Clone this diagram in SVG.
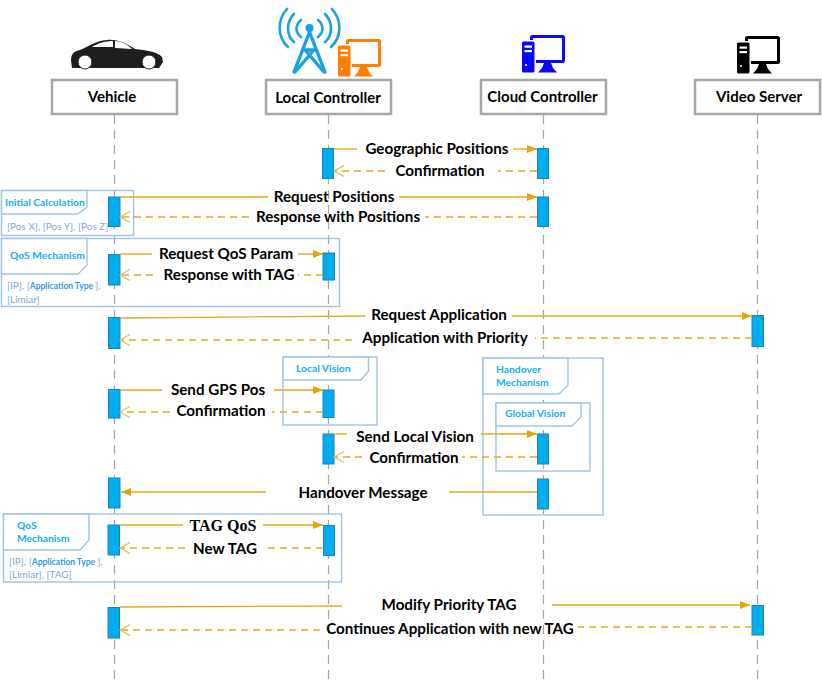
<svg xmlns="http://www.w3.org/2000/svg" width="822" height="686" viewBox="0 0 822 686">
<style>
text{font-family:"Lato","Carlito","Open Sans",sans-serif}
.lbl{font-size:15.2px;font-weight:700;fill:#000;text-anchor:middle}
.head{font-size:15px;font-weight:700;fill:#000;text-anchor:middle}
.box{fill:#fff;stroke:#a6a6a6;stroke-width:2.5}
.life{stroke:#a6a6a6;stroke-width:1.2;stroke-dasharray:9 6;fill:none}
.act{fill:#00aeef;stroke:#1f7fc0;stroke-width:1}
.frame{fill:none;stroke:#9dc3e6;stroke-width:1.4}
.tab{fill:#fff;stroke:#9dc3e6;stroke-width:1.4}
.ft{font-size:10.3px;font-weight:700;fill:#12b0f0}
.fb{font-size:10px;fill:#7fa8d8}
.fbs{font-size:8.5px;font-weight:700;fill:#2e9be0}
.m{stroke:#e3ab17;stroke-width:1.4;fill:none}
.r{stroke:#e3ab17;stroke-width:1.3;stroke-dasharray:7 5;fill:none}
</style>
<defs>
<marker id="solid" markerWidth="12" markerHeight="10" refX="10" refY="4" orient="auto" markerUnits="userSpaceOnUse"><path d="M0 0L10 4L0 8Z" fill="#e3a50f"/></marker>
<marker id="open" markerWidth="14" markerHeight="12" refX="11" refY="6" orient="auto" markerUnits="userSpaceOnUse"><path d="M1 0.5L11 6L1 11.5" fill="none" stroke="#e8bc50" stroke-width="1.2"/></marker>
<g id="pc">
<rect x="8" y="0" width="35" height="28" rx="2.500" fill="currentColor"/>
<rect x="11" y="3" width="29" height="22" fill="#fff"/>
<rect x="-1" y="5" width="15" height="33" rx="2" fill="#fff"/>
<rect x="0" y="6.500" width="12.500" height="31" rx="1.500" fill="currentColor"/>
<rect x="2.500" y="10.500" width="7.500" height="2.200" fill="#fff"/><rect x="2.500" y="15" width="7.500" height="2.200" fill="#fff"/>
<circle cx="4" cy="30" r="1.100" fill="#fff"/>
<path d="M22 28H29L31 33L35 37.500H16L20 33Z" fill="currentColor"/>
</g>
</defs>

<g id="lifelines" class="lifelines">
<line class="life" x1="114.500" y1="115" x2="114.500" y2="682"/>
<line class="life" x1="328.500" y1="115" x2="328.500" y2="682"/>
<line class="life" x1="543.500" y1="115" x2="543.500" y2="682"/>
<line class="life" x1="757.500" y1="115" x2="757.500" y2="682"/>
</g>

<g id="frame-initial"><rect class="frame" x="1.500" y="190.500" width="132" height="45"/><path class="tab" d="M1.500 190.500H87V207L78 214H1.500Z"/><text class="ft" x="5" y="206">Initial Calculation</text><text class="fb" x="7" y="230">[Pos X], [Pos Y], [Pos Z]</text></g>
<g id="frame-qos1"><rect class="frame" x="1.500" y="238.500" width="338" height="68"/><path class="tab" d="M1.500 238.500H87V265L78 274H1.500Z"/><text class="ft" x="10" y="259">QoS Mechanism</text><text x="7" y="289"><tspan class="fb">[IP], [</tspan><tspan class="fbs">Application Type </tspan><tspan class="fb">],</tspan></text><text class="fb" x="7" y="303">[Limiar]</text></g>
<g id="frame-local"><rect class="frame" x="283" y="357" width="94" height="68"/><path class="tab" d="M283 357H368.500V371L361 380H283Z"/><text class="ft" x="296" y="372">Local Vision</text></g>
<g id="frame-handover"><rect class="frame" x="483" y="358" width="120" height="157"/><path class="tab" d="M483 358H568V385L559 394H483Z"/><text class="ft" x="496" y="373">Handover</text><text class="ft" x="496" y="386">Mechanism</text></g>
<g id="frame-global"><rect class="frame" x="496" y="403" width="94" height="68"/><path class="tab" d="M496 403H581V417L572 426H496Z"/><text class="ft" x="505" y="417">Global Vision</text></g>
<g id="frame-qos2"><rect class="frame" x="3.500" y="514" width="338" height="68"/><path class="tab" d="M3.500 514H89V540L80 550H3.500Z"/><text class="ft" x="17" y="529">QoS</text><text class="ft" x="17" y="542">Mechanism</text><text x="9" y="565"><tspan class="fb">[IP], [</tspan><tspan class="fbs">Application Type </tspan><tspan class="fb">],</tspan></text><text class="fb" x="9" y="578">[Limiar], [TAG]</text></g>

<g id="node-vehicle">
<path d="M71 60C71 54 74 51 80 50C88 47 95 41 107 40C118 39 127 44 135 49C146 50 158 52 162 57L163 62L159 68H72Z" fill="#1e1e1e"/>
<path d="M92 47C98 43 106 41 113 41V47ZM115 41C122 41 128 45 132 49L115 48Z" fill="#fff"/>
<circle cx="85" cy="62" r="7" fill="#fff" stroke="#1e1e1e"/><circle cx="149" cy="62" r="7" fill="#fff" stroke="#1e1e1e"/>
<rect class="box" x="52" y="80" width="125" height="34"/><text class="head" x="112" y="102">Vehicle</text>
</g>
<g id="node-local">
<g fill="none" stroke="#16a3e0" stroke-width="2.600" stroke-linecap="round">
<path d="M301 20C295 25 295 32 301 37M294 14C286 22 286 35 294 42M287 9C277 20 277 37 288 47"/>
<path d="M318 20C324 25 324 32 318 37M325 14C333 22 333 35 325 42M332 9C342 20 342 37 331 47"/>
</g>
<circle cx="309.500" cy="28" r="4" fill="#16a3e0"/>
<path d="M309.500 32L294 72M309.500 32L325 72M305 50L324 72M314 50L295 72M305 50H314" fill="none" stroke="#16a3e0" stroke-width="3.400" stroke-linecap="round"/>
<use href="#pc" x="338" y="39" style="color:#ff8000"/>
<rect class="box" x="266" y="80" width="125" height="34"/><text class="head" x="328" y="103">Local Controller</text>
</g>
<g id="node-cloud">
<use href="#pc" x="522" y="35" style="color:#0808f8"/>
<rect class="box" x="481" y="80" width="125" height="34"/><text class="head" x="542.500" y="102">Cloud Controller</text>
</g>
<g id="node-video">
<use href="#pc" x="737" y="36" style="color:#000"/>
<rect class="box" x="695" y="80" width="125" height="34"/><text class="head" x="759" y="102">Video Server</text>
</g>

<g id="activations">
<rect class="act" x="322.500" y="148.500" width="11" height="30"/><rect class="act" x="537.500" y="148.500" width="11" height="30"/>
<rect class="act" x="108.500" y="197" width="11.500" height="29.500"/><rect class="act" x="537.500" y="197" width="11" height="29.500"/>
<rect class="act" x="108.500" y="254.500" width="11.500" height="30.500"/><rect class="act" x="323" y="253" width="11.500" height="27"/>
<rect class="act" x="108.500" y="317.500" width="11.500" height="31"/><rect class="act" x="752" y="315.500" width="11.500" height="31"/>
<rect class="act" x="108.500" y="389.500" width="11.500" height="28.500"/><rect class="act" x="323" y="390" width="11" height="27.500"/>
<rect class="act" x="323" y="434" width="11" height="30"/><rect class="act" x="537.500" y="434" width="11" height="30"/>
<rect class="act" x="108.500" y="478" width="11.500" height="30"/><rect class="act" x="537.500" y="479" width="11" height="30"/>
<rect class="act" x="108" y="525" width="11.500" height="30"/><rect class="act" x="323.500" y="525.500" width="11" height="30"/>
<rect class="act" x="108" y="607.500" width="11.500" height="30.500"/><rect class="act" x="752" y="605.500" width="11.500" height="29.500"/>
</g>

<g id="connectors">
<path class="m" d="M334 149H357"/><path class="m" d="M513 149H537" marker-end="url(#solid)"/>
<path class="r" d="M537 171H498"/><path class="r" d="M385 171H334" marker-end="url(#open)"/>
<path class="m" d="M120 197H268"/><path class="m" d="M399 197H537" marker-end="url(#solid)"/>
<path class="r" d="M537 217H425"/><path class="r" d="M249 217H120" marker-end="url(#open)"/>
<path class="m" d="M120 254H152"/><path class="m" d="M298 254H323" marker-end="url(#solid)"/>
<path class="r" d="M323 275H298"/><path class="r" d="M153 275H120" marker-end="url(#open)"/>
<path class="m" d="M120 318L365 316"/><path class="m" d="M512 316H752" marker-end="url(#solid)"/>
<path class="r" d="M752 338H535"/><path class="r" d="M352 340H120" marker-end="url(#open)"/>
<path class="m" d="M120 390H162"/><path class="m" d="M274 390H323" marker-end="url(#solid)"/>
<path class="r" d="M323 412H272"/><path class="r" d="M170 412H120" marker-end="url(#open)"/>
<path class="m" d="M334 434H347"/><path class="m" d="M481 434H537" marker-end="url(#solid)"/>
<path class="r" d="M537 457H462"/><path class="r" d="M362 457H334" marker-end="url(#open)"/>
<path class="m" d="M266 492H121" marker-end="url(#solid)"/>
<path class="m" d="M537 492H449"/>
<path class="m" d="M120 525H183"/><path class="m" d="M263 525H323" marker-end="url(#solid)"/>
<path class="r" d="M323 548H268"/><path class="r" d="M185 548H120" marker-end="url(#open)"/>
<path class="m" d="M120 607L342 606"/><path class="m" d="M552 605H750" marker-end="url(#solid)"/>
<path class="r" d="M752 627H578"/><path class="r" d="M320 630H120" marker-end="url(#open)"/>
</g>

<g id="labels">
<text class="lbl" x="437" y="154">Geographic Positions</text>
<text class="lbl" x="440" y="176">Confirmation</text>
<text class="lbl" x="334" y="202">Request Positions</text>
<text class="lbl" x="338" y="222">Response with Positions</text>
<text class="lbl" x="226" y="259">Request QoS Param</text>
<text class="lbl" x="229" y="280">Response with TAG</text>
<text class="lbl" x="439" y="320">Request Application</text>
<text class="lbl" x="445" y="343">Application with Priority</text>
<text class="lbl" x="218" y="395">Send GPS Pos</text>
<text class="lbl" x="221" y="416">Confirmation</text>
<text class="lbl" x="415" y="442">Send Local Vision</text>
<text class="lbl" x="414" y="463">Confirmation</text>
<text class="lbl" x="363" y="498">Handover Message</text>
<text x="223" y="531" style="font-family:'Liberation Serif',serif;font-size:16px;font-weight:700" text-anchor="middle">TAG QoS</text>
<text class="lbl" x="225" y="554">New TAG</text>
<text class="lbl" x="449" y="610">Modify Priority TAG</text>
<text class="lbl" x="450" y="634">Continues Application with new TAG</text>
</g>
</svg>
